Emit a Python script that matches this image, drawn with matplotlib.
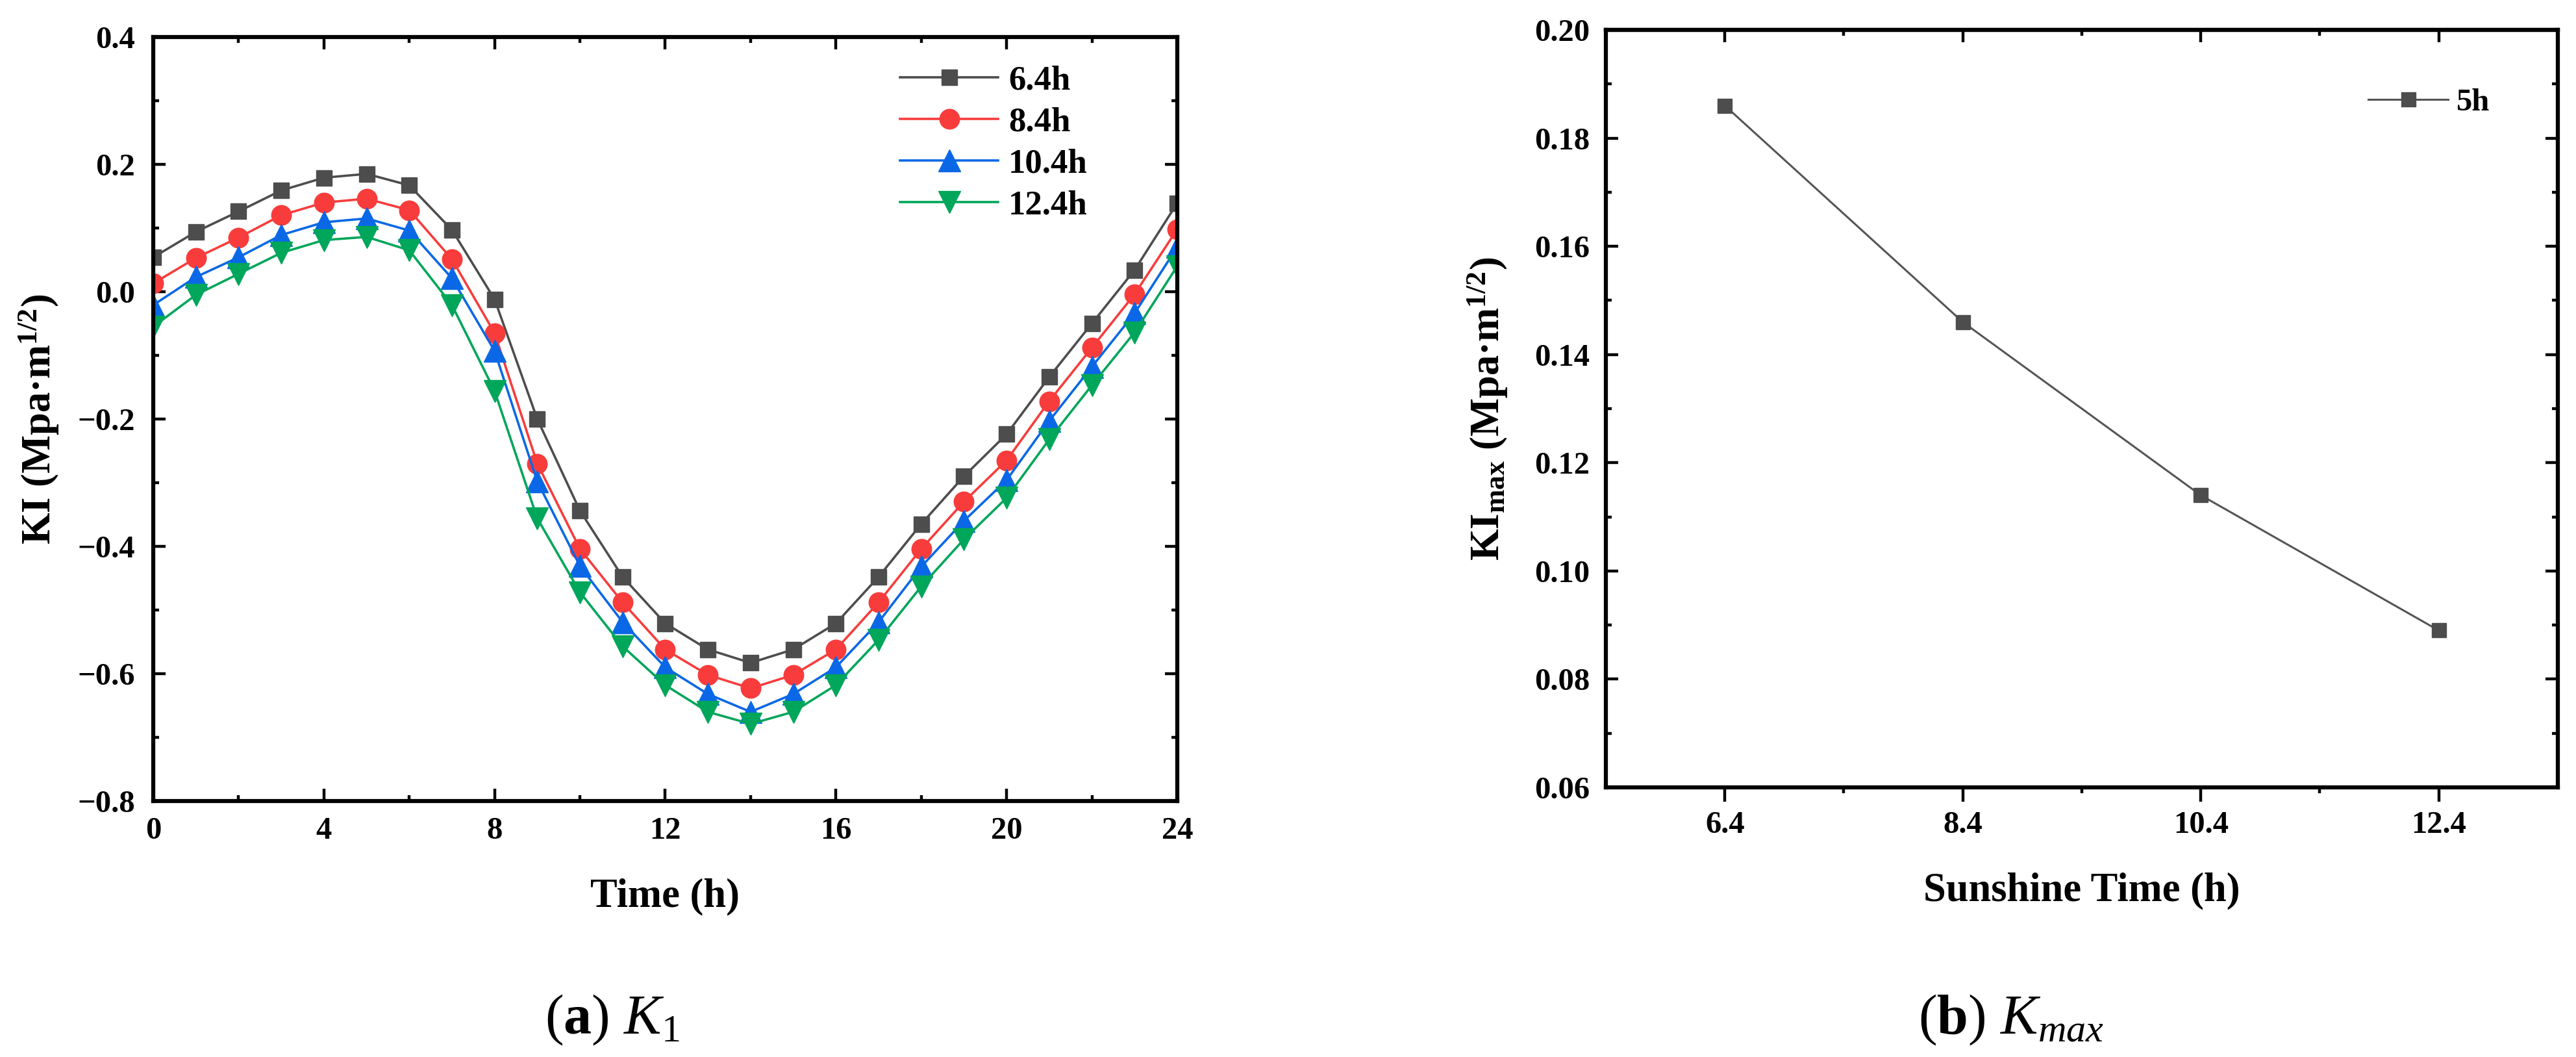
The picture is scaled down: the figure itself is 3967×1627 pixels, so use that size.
import numpy as np
import matplotlib
matplotlib.use("Agg")
import matplotlib.pyplot as plt
from matplotlib.ticker import MultipleLocator, FixedLocator, FuncFormatter

plt.rcParams['font.family'] = ['Liberation Serif', 'DejaVu Serif']
plt.rcParams['mathtext.fontset'] = 'custom'
plt.rcParams['mathtext.rm'] = 'Liberation Serif'
plt.rcParams['mathtext.bf'] = 'Liberation Serif:bold'
plt.rcParams['mathtext.it'] = 'Liberation Serif:italic'

# ---- data ----
hours = list(range(0, 25))
series_names = ['6.4h', '8.4h', '10.4h', '12.4h']
ki_64 = [0.054, 0.094, 0.126, 0.159, 0.179, 0.185, 0.167, 0.097, -0.012, -0.200,
         -0.344, -0.448, -0.521, -0.562, -0.583, -0.562, -0.521, -0.448, -0.365,
         -0.290, -0.224, -0.134, -0.050, 0.034, 0.139]
ki_84 = [0.013, 0.053, 0.085, 0.120, 0.140, 0.146, 0.128, 0.051, -0.065, -0.270,
         -0.404, -0.488, -0.562, -0.602, -0.623, -0.602, -0.562, -0.488, -0.404,
         -0.330, -0.265, -0.172, -0.088, -0.004, 0.098]
ki_104 = [-0.021, 0.023, 0.054, 0.089, 0.109, 0.115, 0.096, 0.021, -0.093, -0.298,
          -0.431, -0.519, -0.590, -0.632, -0.660, -0.632, -0.590, -0.519, -0.432,
          -0.360, -0.296, -0.203, -0.118, -0.034, 0.070]
ki_124 = [-0.055, -0.005, 0.028, 0.061, 0.081, 0.086, 0.065, -0.021, -0.156, -0.356,
          -0.472, -0.557, -0.618, -0.660, -0.679, -0.660, -0.618, -0.547, -0.463,
          -0.389, -0.324, -0.232, -0.147, -0.064, 0.040]

sunshine = [6.4, 8.4, 10.4, 12.4]
ki_max = [0.186, 0.146, 0.114, 0.089]

colors = ['#4d4d4d', '#f83c3c', '#0a68e6', '#00a65a']
markers = ['s', 'o', '^', 'v']
msizes = [17, 22, 25, 25]

fig = plt.figure(figsize=(39.67, 16.27), dpi=100)
ax1 = fig.add_axes([0.0595, 0.2422, 0.3975, 0.7228])
ax2 = fig.add_axes([0.6234, 0.2551, 0.3695, 0.7166])


def fmt(decimals):
    return FuncFormatter(lambda v, p: ('%.*f' % (decimals, v)).replace('-', '\u2212'))


def style(ax):
    for s in ax.spines.values():
        s.set_linewidth(4.5)
    ax.tick_params(which='major', direction='in', length=14, width=3.2,
                   labelsize=35, top=True, right=True)
    ax.tick_params(which='minor', direction='in', length=6.5, width=3.2,
                   top=True, right=True)
    for lab in ax.get_xticklabels() + ax.get_yticklabels():
        lab.set_fontweight('bold')


# ---- (a) ----
for ys, name, c, m, ms in zip([ki_64, ki_84, ki_104, ki_124], series_names, colors, markers, msizes):
    ax1.plot(hours, ys, color=c, marker=m, markersize=ms, linewidth=2.6, label=name)
ax1.set_xlim(0, 24)
ax1.set_ylim(-0.8, 0.4)
ax1.xaxis.set_major_locator(MultipleLocator(4))
ax1.xaxis.set_minor_locator(MultipleLocator(2))
ax1.yaxis.set_major_locator(MultipleLocator(0.2))
ax1.yaxis.set_minor_locator(MultipleLocator(0.1))
ax1.yaxis.set_major_formatter(fmt(1))
style(ax1)
ax1.tick_params(axis='y', which='major', pad=20)
ax1.tick_params(axis='x', which='major', pad=17)
ax1.set_xlabel('Time (h)', fontsize=45, fontweight='bold')
ax1.xaxis.set_label_coords(0.5, -0.101)
ax1.set_ylabel('KI (Mpa·m$^{\\mathbf{1/2}}$)', fontsize=45, fontweight='bold', va='center')
ax1.yaxis.set_label_coords(-0.1116, 0.5)
leg1 = ax1.legend(loc='upper left', bbox_to_anchor=(0.3494, 0.938), bbox_transform=fig.transFigure,
                  frameon=False, prop={'size': 38, 'weight': 'bold'}, handlelength=2.86,
                  handletextpad=0.3, labelspacing=0.3, borderpad=0, borderaxespad=0)

# ---- (b) ----
ax2.plot(sunshine, ki_max, color='#555555', marker='s', markersize=16.5,
         markerfacecolor='#4d4d4d', markeredgecolor='#4d4d4d', linewidth=2.2, label='5h')
ax2.set_xlim(5.4, 13.4)
ax2.set_ylim(0.06, 0.20)
ax2.xaxis.set_major_locator(FixedLocator(sunshine))
ax2.xaxis.set_minor_locator(FixedLocator([7.4, 9.4, 11.4]))
ax2.xaxis.set_major_formatter(fmt(1))
ax2.yaxis.set_major_locator(MultipleLocator(0.02))
ax2.yaxis.set_minor_locator(MultipleLocator(0.01))
ax2.yaxis.set_major_formatter(fmt(2))
style(ax2)
ax2.tick_params(axis='x', which='both', direction='out', bottom=True, top=False)
ax2.tick_params(axis='x', which='major', length=16, pad=10)
ax2.tick_params(axis='y', which='major', pad=18)
# top ticks point inward while bottom ones point out
sec = ax2.secondary_xaxis('top')
sec.xaxis.set_major_locator(FixedLocator(sunshine))
sec.xaxis.set_minor_locator(FixedLocator([7.4, 9.4, 11.4]))
sec.tick_params(which='major', direction='in', length=14, width=3.2, labeltop=False)
sec.tick_params(which='minor', direction='in', length=6.5, width=3.2)
sec.spines['top'].set_linewidth(4.5)
ax2.set_xlabel('Sunshine Time (h)', fontsize=45, fontweight='bold')
ax2.xaxis.set_label_coords(0.5, -0.112)
ax2.set_ylabel('KI$_{\\mathbf{max}}$ (Mpa·m$^{\\mathbf{1/2}}$)', fontsize=45, fontweight='bold', va='center')
ax2.yaxis.set_label_coords(-0.124, 0.5)
leg2 = ax2.legend(loc='upper left', bbox_to_anchor=(0.9193, 0.9164), bbox_transform=fig.transFigure,
                  frameon=False, prop={'size': 35, 'weight': 'bold'}, handlelength=2.54,
                  handletextpad=0.26, borderpad=0, borderaxespad=0)

# ---- captions ----
fig.text(0.2378, 0.035, '($\\mathbf{a}$) $\\mathit{K}_{\\mathrm{1}}$', fontsize=62,
         ha='center', va='center')
fig.text(0.7808, 0.035, '($\\mathbf{b}$) $\\mathit{K}_{\\mathit{max}}$', fontsize=62,
         ha='center', va='center')

fig.savefig('out.png', dpi=100)
